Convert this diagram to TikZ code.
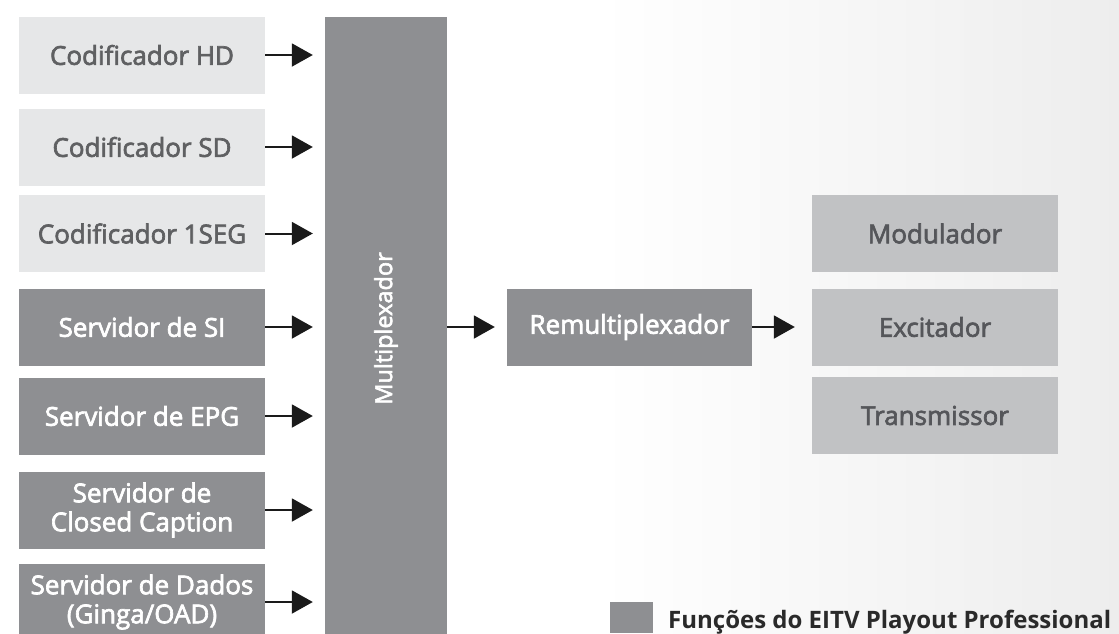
\documentclass[tikz,border=0pt]{standalone}
\usepackage{fontspec}
\setmainfont{Open Sans}
\newfontfamily\semib{Open Sans}[FakeBold=2.6]
\usetikzlibrary{arrows.meta}
\definecolor{lightbox}{HTML}{E6E7E8}
\definecolor{lighttext}{HTML}{5F6062}
\definecolor{darkbox}{HTML}{8E8F92}
\definecolor{midbox}{HTML}{C1C2C4}
\definecolor{midtext}{HTML}{55565A}
\definecolor{arrowc}{HTML}{1A1A1A}
\definecolor{legtext}{HTML}{2A2A2A}
\tikzset{
  lbox/.style={rectangle, fill=lightbox, text=lighttext, minimum width=246pt, minimum height=77pt, inner sep=0pt, align=center, font=\semib\fontsize{26}{29}\selectfont},
  dbox/.style={lbox, fill=darkbox, text=white},
  rbox/.style={lbox, fill=midbox, text=midtext},
  conn/.style={-{Triangle[length=21pt,width=23pt]}, line width=2pt, draw=arrowc},
}
\begin{document}
\begin{tikzpicture}[x=1pt,y=-1pt]
\useasboundingbox (0,0) rectangle (1119,633);
\clip (0,0) rectangle (1119,633);
\fill[white] (0,0) rectangle (1119,633);
\shade[left color=white, right color=black!7] (600,0) rectangle (1119,633);
% left column
\node[lbox] (b1) at (142,55) {Codificador HD};
\node[lbox] (b2) at (142,147) {Codificador SD};
\node[lbox] (b3) at (142,233.5) {Codificador 1SEG};
\node[dbox] (b4) at (142,327) {Servidor de SI};
\node[dbox] (b5) at (142,416) {Servidor de EPG};
\node[dbox] (b6) at (142,510) {Servidor de\\Closed Caption};
\node[dbox] (b7) at (142,602) {Servidor de Dados\\(Ginga/OAD)};
% multiplexer
\node[rectangle, fill=darkbox, text=white, minimum width=122pt, minimum height=623pt, inner sep=0pt, font=\semib\fontsize{23.5}{27}\selectfont] (mux) at (386,328.5) {\rotatebox{90}{Multiplexador}};
% remux
\node[dbox, minimum width=245pt] (remux) at (629.5,327) {Remultiplexador};
% right column
\node[rbox] (mod) at (935,233.5) {Modulador};
\node[rbox] (exc) at (935,327) {Excitador};
\node[rbox] (tx) at (935,415.5) {Transmissor};
% connectors
\foreach \b in {b1,b2,b3,b4,b5,b6,b7}
  \draw[conn, shorten >=12pt] (\b.east) -- (\b.east -| mux.west);
\draw[conn, shorten >=12pt] (mux.east |- remux.west) -- (remux.west);
\draw[conn, shorten >=17pt] (remux.east) -- (exc.west);
% legend
\node[rectangle, fill=darkbox, minimum width=43pt, minimum height=31pt, inner sep=0pt] (legsq) at (631.5,617.5) {};
\node[anchor=base west, inner sep=0pt, text=legtext, font=\bfseries\fontsize{24}{28}\selectfont] (legtxt) at (668,628) {Funções do EITV Playout Professional};
\end{tikzpicture}
\end{document}
